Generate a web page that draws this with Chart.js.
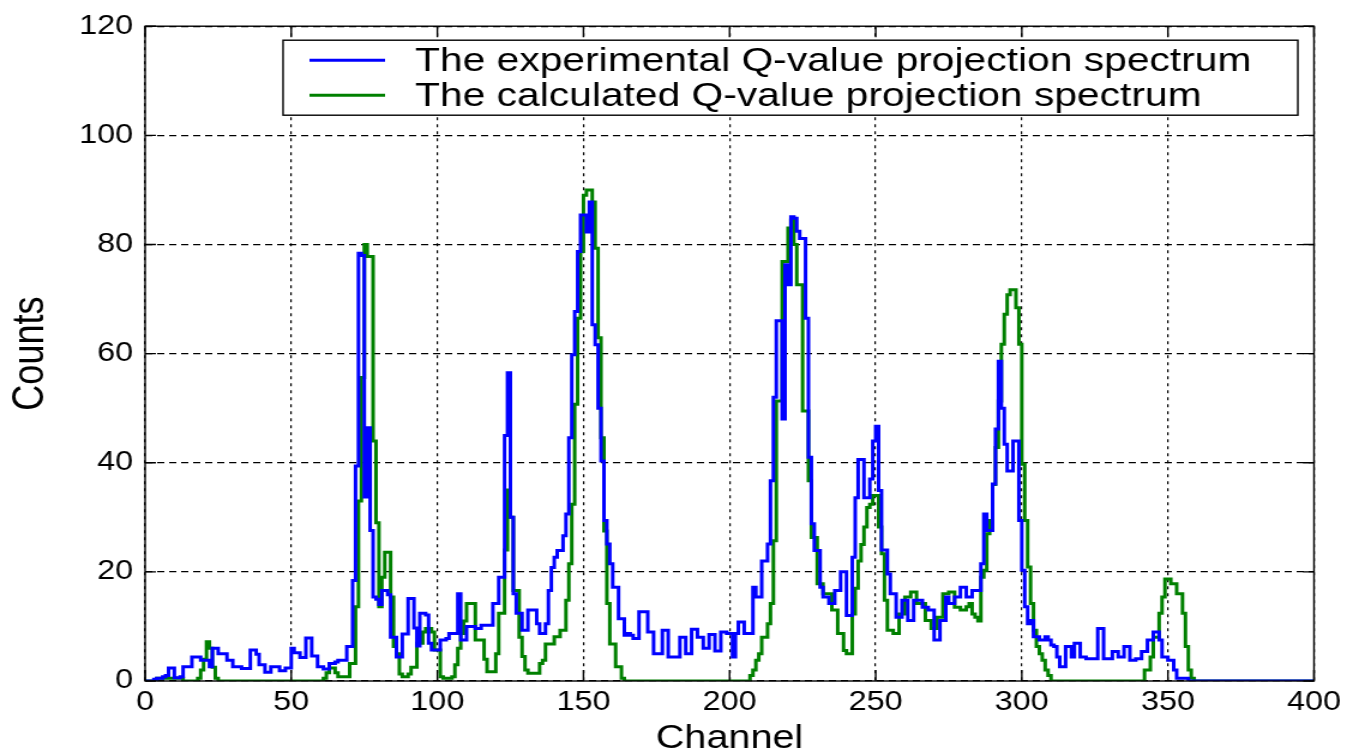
<!DOCTYPE html>
<html>
<head>
<meta charset="utf-8">
<script src="https://cdn.jsdelivr.net/npm/chart.js@4.4.1/dist/chart.umd.min.js"></script>
<style>
  html, body { margin: 0; padding: 0; background: #fff; overflow: hidden; }
  /* the original figure is stretched sideways, so the plot is drawn narrower and widened */
  #wrap { position: relative; width: 1123px; height: 752px; transform: scaleX(1.19947); transform-origin: 0 0; }
</style>
</head>
<body>
<div id="wrap"><canvas id="chart"></canvas></div>
<script>
// one value per channel (channel c covers c .. c+1)
const expCounts = [
  0, 0, 0, 0.3, 0.5, 0.5, 0.8, 1, 2.4, 2.4,
  0.6, 0.6, 0.8, 2.6, 2.6, 2.6, 4.4, 4.4, 4.4, 3.8,
  3.8, 3.8, 2.6, 6, 6, 5, 5, 5, 3.8, 3.8,
  2.6, 2.6, 2.6, 2.3, 2.3, 2.3, 5.7, 5.7, 4.9, 3,
  3, 1.6, 1.6, 2.6, 2.6, 2.6, 1.9, 1.9, 2.4, 2.4,
  6, 5.2, 5.2, 4.3, 4.3, 7.9, 7.9, 4.6, 4.6, 2.6,
  2.6, 2.2, 2.2, 3.2, 3.2, 3.5, 3.8, 3.8, 3.8, 6.3,
  6.3, 18.4, 39.4, 78.4, 78, 33.7, 46.4, 27.6, 15.4, 15,
  14, 16.6, 16.6, 15.8, 8, 8, 4.4, 4.4, 8.6, 8.6,
  15.1, 15.1, 9.7, 6.4, 12.4, 12.4, 12.1, 6.9, 5.7, 5.7,
  5.7, 7.5, 7.5, 7.8, 8.7, 8.7, 8.7, 16, 7.5, 7.5,
  10, 10, 10, 9.6, 9.6, 10.2, 10.2, 10.2, 10.2, 14.2,
  14.2, 19, 19, 45, 56.5, 30, 16, 12.4, 12.4, 9.3,
  9.3, 13, 13, 13, 10.5, 8.7, 8.7, 10.5, 16.6, 20.8,
  22.7, 23.9, 23.9, 26.6, 30.6, 44.6, 59.8, 67.7, 78.7, 85.4,
  85.4, 82.3, 87.8, 65.3, 61.6, 50, 40.3, 29.4, 25.1, 21.5,
  17.2, 17.2, 11.4, 11.4, 8.4, 8.7, 8.4, 7.8, 7.8, 12.7,
  12.7, 12.7, 9, 9, 5, 5, 5, 9.3, 9.3, 4.4,
  4.4, 4.4, 4.4, 8, 8, 5, 5, 9.5, 9.5, 8,
  8, 6, 6, 8.5, 8.5, 5.5, 5.5, 9, 9, 8.7,
  8.7, 4.4, 8.7, 10.8, 10.8, 8.7, 8.7, 8.7, 17.2, 15.4,
  15.4, 22, 22, 25.1, 36.7, 52, 66, 66, 48, 76.3,
  72.6, 85.1, 84.8, 82.4, 81.1, 81.1, 66.5, 41, 28.8, 23.9,
  23.9, 17.2, 15.4, 15.4, 14.2, 14.2, 16.6, 16.6, 20, 20,
  12, 12, 22.7, 33.6, 40.6, 40.6, 33.6, 33.6, 37, 44,
  46.7, 34.9, 24, 24, 19.6, 16, 16, 11.7, 11.7, 14.8,
  14.8, 11.1, 11.1, 14.8, 14.8, 14.8, 13.5, 13.5, 13, 13,
  7.5, 7.5, 11.1, 11.1, 15.4, 14.2, 14.2, 15.4, 15.4, 17.2,
  17.2, 15.4, 15.4, 16.6, 16.6, 16.6, 21.5, 30.6, 27.6, 27.6,
  36.1, 46.2, 58.6, 50, 43.4, 38.5, 38.5, 44, 44, 29.4,
  20.3, 13.6, 10.5, 11.1, 8.1, 8.1, 7.5, 7.5, 8.1, 7.5,
  6.6, 6.3, 4.4, 2.6, 2.6, 6.3, 6.3, 4.4, 6.9, 6.9,
  4.4, 4.4, 4.1, 4.1, 4.1, 4.1, 9.6, 9.6, 4.1, 4.1,
  4.1, 5.4, 5.4, 4.4, 4.4, 6.3, 6.3, 3.8, 3.8, 4.1,
  4.1, 5.4, 5.4, 7.5, 7.5, 9, 9, 7.5, 4.4, 4.4,
  3.8, 3.8, 2, 0.5, 0.5, 0.5, 0.5, 0, 0, 0,
  0, 0, 0, 0, 0, 0, 0, 0, 0, 0,
  0, 0, 0, 0, 0, 0, 0, 0, 0, 0,
  0, 0, 0, 0, 0, 0, 0, 0, 0, 0,
  0, 0, 0, 0, 0, 0, 0, 0, 0, 0
];

const calcCounts = [
  0, 0, 0, 0, 0.5, 0.5, 0.5, 0.5, 0.5, 0.5,
  0.5, 0.5, 0.5, 0, 0, 0, 0, 0, 0.5, 2,
  4, 7.2, 6, 2.5, 0.5, 0, 0, 0, 0, 0,
  0, 0, 0, 0, 0, 0, 0, 0, 0, 0,
  0, 0, 0, 0, 0, 0, 0, 0, 0, 0,
  0, 0, 0, 0, 0, 0, 0, 0, 0, 0,
  0, 0.5, 1.5, 2.4, 2.4, 1.5, 0.8, 0.8, 0.8, 0.8,
  3.2, 3.2, 13.6, 33, 55.6, 80, 77.8, 77.8, 44, 29,
  13.6, 19, 23.6, 23.6, 15.4, 6.3, 5, 1.3, 0.8, 0.8,
  1.3, 2.5, 2.5, 6.9, 6.9, 9, 9.6, 9.6, 9, 5.7,
  5.7, 0.8, 0.5, 0.5, 0.5, 0.8, 3, 6, 8.7, 11,
  14.2, 14.2, 14.2, 7.5, 7.5, 7.5, 4, 1.7, 1.7, 1.7,
  5, 12.4, 12.4, 24, 35, 30, 16.6, 16.6, 8, 4.5,
  2, 1.4, 1.4, 1.4, 1.4, 3.2, 3.8, 6.8, 6.8, 6.8,
  8.1, 8.1, 9.3, 9.3, 14.8, 21.5, 32.4, 50.7, 66.5, 78.7,
  89, 90, 90, 87.8, 79.3, 62.9, 44.6, 27.5, 14.2, 6.8,
  6.8, 2.6, 2.6, 0.5, 0, 0, 0, 0, 0, 0,
  0, 0, 0, 0, 0, 0, 0, 0, 0, 0,
  0, 0, 0, 0, 0, 0, 0, 0, 0, 0,
  0, 0, 0, 0, 0, 0, 0, 0, 0, 0,
  0, 0, 0, 0, 0, 0, 0, 1, 2, 3.8,
  5, 8, 8, 10.5, 14.2, 25.7, 51.3, 51.3, 76.9, 76.9,
  83, 84.5, 80, 72.6, 72.6, 49.5, 49.5, 36.7, 26.3, 26.3,
  17.8, 17.8, 16, 16, 16, 13, 13, 8.7, 8.7, 5.6,
  5, 5, 12.3, 17, 22, 25, 28.2, 31.8, 32.4, 34,
  34, 28.2, 23.3, 14.8, 9.3, 9.3, 8.7, 8.7, 12.3, 12.3,
  15.4, 15.4, 16.3, 16.3, 14.2, 14.2, 14.2, 11.1, 11.1, 9.6,
  9.6, 11.7, 11.7, 16, 16, 16.3, 16.3, 13.5, 13.5, 13,
  13, 13.6, 14.2, 12.3, 11.7, 11, 19, 20.3, 27, 29.4,
  36, 42.8, 51.3, 61.7, 67.2, 70.8, 71.7, 71.7, 68.4, 61.7,
  39.7, 29.4, 20.9, 14.2, 9.3, 6.3, 5, 3.8, 2, 1,
  0, 0, 0, 0, 0, 0, 0, 0, 0, 0,
  0, 0, 0, 0, 0, 0, 0, 0, 0, 0,
  0, 0, 0, 0, 0, 0, 0, 0, 0, 0,
  0, 0, 2, 2, 4.4, 8, 8, 12.4, 15.4, 18.7,
  18.7, 17.8, 17.8, 16, 16, 12.4, 6.3, 2, 0.5, 0,
  0, 0, 0, 0, 0, 0, 0, 0, 0, 0,
  0, 0, 0, 0, 0, 0, 0, 0, 0, 0,
  0, 0, 0, 0, 0, 0, 0, 0, 0, 0,
  0, 0, 0, 0, 0, 0, 0, 0, 0, 0
];

const seriesLabels = [
  'The experimental Q-value projection spectrum',
  'The calculated Q-value projection spectrum'
];
const xTicks = [0, 50, 100, 150, 200, 250, 300, 350, 400];
const yTicks = [0, 20, 40, 60, 80, 100, 120];

const channels = expCounts.map((_, i) => i);

function toPoints(values) {
  const pts = channels.map((c, i) => ({ x: c, y: values[i] }));
  pts.push({ x: channels.length, y: values[values.length - 1] });
  return pts;
}

const FONT = "'Liberation Sans', Arial, sans-serif";

// frame, inward tick marks and the boxed legend inside the plot
const matlabFrame = {
  id: 'matlabFrame',
  afterDatasetsDraw(chart) {
    const { ctx, chartArea: a, scales } = chart;
    ctx.save();
    ctx.strokeStyle = '#000';
    ctx.lineWidth = 1.4;
    ctx.setLineDash([]);
    ctx.strokeRect(a.left, a.top, a.right - a.left, a.bottom - a.top);
    ctx.beginPath();
    xTicks.forEach(v => {
      const px = scales.x.getPixelForValue(v);
      ctx.moveTo(px, a.bottom); ctx.lineTo(px, a.bottom - 11);
      ctx.moveTo(px, a.top); ctx.lineTo(px, a.top + 11);
    });
    yTicks.forEach(v => {
      const py = scales.y.getPixelForValue(v);
      ctx.moveTo(a.left, py); ctx.lineTo(a.left + 9, py);
      ctx.moveTo(a.right, py); ctx.lineTo(a.right - 9, py);
    });
    ctx.stroke();

    // legend box
    const bx = a.left + 115, by = a.top + 14, bw = 846, bh = 75;
    ctx.fillStyle = '#fff';
    ctx.fillRect(bx, by, bw, bh);
    ctx.strokeRect(bx, by, bw, bh);
    ctx.font = '34px ' + FONT;
    ctx.textBaseline = 'middle';
    chart.data.datasets.forEach((ds, i) => {
      const ry = by + 20 + i * 35;
      ctx.strokeStyle = ds.borderColor;
      ctx.lineWidth = 3;
      ctx.beginPath();
      ctx.moveTo(bx + 22, ry); ctx.lineTo(bx + 85, ry);
      ctx.stroke();
      ctx.fillStyle = '#000';
      ctx.fillText(ds.label, bx + 110, ry + 1);
    });
    ctx.restore();
  }
};

new Chart(document.getElementById('chart'), {
  type: 'line',
  data: {
    datasets: [
      {
        label: seriesLabels[0],
        data: toPoints(expCounts),
        borderColor: '#0000ff',
        borderWidth: 3,
        pointRadius: 0,
        stepped: true,
        fill: false,
      },
      {
        label: seriesLabels[1],
        data: toPoints(calcCounts),
        borderColor: '#008000',
        borderWidth: 3,
        pointRadius: 0,
        stepped: true,
        fill: false,
      },
    ],
  },
  options: {
    responsive: true,
    maintainAspectRatio: false,
    animation: false,
    layout: { padding: { top: 23, right: 27, left: 0, bottom: 0 } },
    plugins: {
      legend: { display: false },
      tooltip: { enabled: false },
    },
    scales: {
      x: {
        type: 'linear',
        min: 0,
        max: 400,
        afterBuildTicks: (scale) => { scale.ticks = xTicks.map(v => ({ value: v })); },
        afterFit: (scale) => { scale.height = 71; },
        grid: { color: '#000', lineWidth: 1.2, drawTicks: false },
        border: { display: false, dash: [3, 4] },
        ticks: { color: '#000', font: { family: FONT, size: 27 }, padding: 5, maxRotation: 0 },
        title: { display: true, text: 'Channel', color: '#000', font: { family: FONT, size: 33 }, padding: { top: 0, bottom: -7 } },
      },
      y: {
        min: 0,
        max: 120,
        afterBuildTicks: (scale) => { scale.ticks = yTicks.map(v => ({ value: v })); },
        afterFit: (scale) => { scale.width = 121; },
        grid: { color: '#000', lineWidth: 1.2, drawTicks: false },
        border: { display: false, dash: [6, 4] },
        ticks: { color: '#000', font: { family: FONT, size: 27 }, padding: 10 },
        title: { display: true, text: 'Counts', color: '#000', font: { family: FONT, size: 36 }, padding: { top: 4, bottom: 0 } },
      },
    },
  },
  plugins: [matlabFrame],
});
</script>
</body>
</html>
